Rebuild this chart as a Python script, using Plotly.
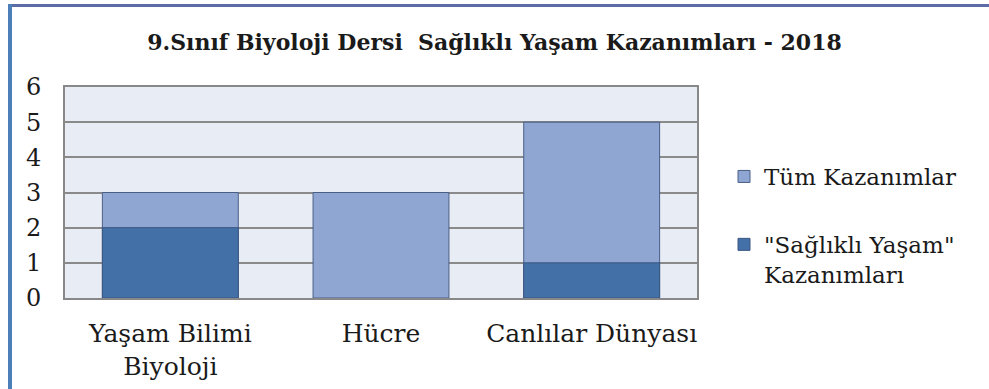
import plotly.graph_objects as go

# Ünite adları ve kazanım sayıları
categories = ["Yaşam Bilimi<br>Biyoloji", "Hücre", "Canlılar Dünyası"]
tum_kazanimlar = [3, 3, 5]
saglikli_yasam = [2, 0, 1]
y_ticks = [0, 1, 2, 3, 4, 5, 6]

SERIF = "DejaVu Serif"
W, H = 989, 389
ML, MR, MT, MB = 65, 292, 87, 91
PW, PH = W - ML - MR, H - MT - MB


def px_x(px):
    return (px - ML) / PW


def px_y(py):
    return 1 - (py - MT) / PH


fig = go.Figure()
fig.add_trace(go.Bar(
    x=categories, y=tum_kazanimlar, name="Tüm Kazanımlar",
    marker=dict(color="#8fa6d2", line=dict(color="#4a5f86", width=1)),
    legendgroup="a",
))
fig.add_trace(go.Bar(
    x=categories, y=saglikli_yasam, name="\"Sağlıklı Yaşam\"<br>Kazanımları",
    marker=dict(color="#4470a8",
                line=dict(color="#3a5680", width=[1 if v else 0 for v in saglikli_yasam])),
    legendgroup="b",
))

fig.update_layout(
    width=W, height=H,
    margin=dict(l=ML, r=MR, t=MT, b=MB, autoexpand=False),
    barmode="overlay",
    bargap=0.355,
    paper_bgcolor="white",
    plot_bgcolor="#e8ecf5",
    font=dict(family=SERIF, size=24, color="#1a1a1a"),
    title=dict(
        text="<b>9.Sınıf Biyoloji Dersi  Sağlıklı Yaşam Kazanımları - 2018</b>",
        x=0.5, xanchor="center", y=1 - 42 / H, yanchor="middle",
        font=dict(family=SERIF, size=22, color="#1a1a1a"),
    ),
    legend=dict(
        x=px_x(724), xanchor="left",
        y=px_y(155), yanchor="top",
        bgcolor="rgba(0,0,0,0)",
        tracegroupgap=35,
        valign="top",
        itemwidth=30,
        font=dict(family=SERIF, size=23),
    ),
    showlegend=True,
)

fig.update_xaxes(
    showline=True, linecolor="#888888", linewidth=2, mirror=True,
    showgrid=False, ticks="", ticklabelstandoff=12, automargin=False,
    tickfont=dict(family=SERIF, size=25),
)
fig.update_yaxes(
    range=[0, 6], tickvals=y_ticks, ticktext=[str(v) for v in y_ticks],
    showline=True, linecolor="#888888", linewidth=2, mirror=True,
    showgrid=True, gridcolor="#8a8a8a", gridwidth=2,
    zeroline=False, ticks="", ticklabelstandoff=17, automargin=False,
    tickfont=dict(family=SERIF, size=24),
)

# Çerçeve: üstte ve solda mavi kenar
fig.add_shape(type="line", xref="paper", yref="paper",
              x0=px_x(8), x1=px_x(989), y0=px_y(5.5), y1=px_y(5.5),
              line=dict(color="#5b6ca6", width=3))
fig.add_shape(type="line", xref="paper", yref="paper",
              x0=px_x(10), x1=px_x(10), y0=px_y(4), y1=px_y(389),
              line=dict(color="#4d80b8", width=4))

fig.write_html("out.html")
